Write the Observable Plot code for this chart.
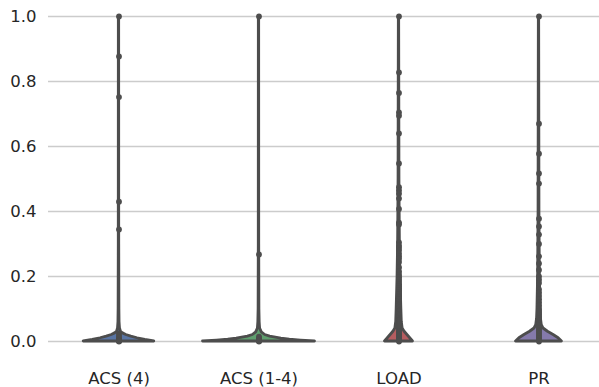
<!DOCTYPE html>
<html>
<head>
<meta charset="utf-8">
<script src="https://cdn.jsdelivr.net/npm/d3@7"></script>
<script src="https://cdn.jsdelivr.net/npm/@observablehq/plot@0.6"></script>
<style>
  html, body { margin: 0; padding: 0; background: #fff; }
  #chart { width: 599px; height: 387px; }
</style>
</head>
<body>
<div id="chart"></div>
<script>
// Categories and fill colours
const categories = ["ACS (4)", "ACS (1-4)", "LOAD", "PR"];
const fills = ["#5975a4", "#5f9e6e", "#b55d60", "#857aab"];
const yTicks = [0, 0.2, 0.4, 0.6, 0.8, 1.0];

// Observations (drawn as inner points)
const acs4Values = [1.0, 0.877, 0.752, 0.43, 0.345, 0.025, 0.018, 0.012, 0.008, 0.005, 0.003, 0.002, 0.001, 0];
const acs14Values = [1.0, 0.268, 0.015, 0.01, 0.006, 0.004, 0.002, 0.001, 0];
const loadValues = [1.0, 0.828, 0.765, 0.705, 0.695, 0.64, 0.548, 0.475, 0.465, 0.455, 0.44, 0.408, 0.366, 0.36,
  0.305, 0.295, 0.288, 0.28, 0.27, 0.262, 0.255, 0.245, 0.228, 0.215, 0.205, 0.198, 0.19, 0.183, 0.176, 0.17,
  0.164, 0.158, 0.152, 0.146, 0.14, 0.135, 0.13, 0.125, 0.12, 0.115, 0.11, 0.105, 0.1, 0.096, 0.092, 0.088,
  0.084, 0.08, 0.076, 0.072, 0.068, 0.064, 0.06, 0.057, 0.054, 0.051, 0.048, 0.045, 0.042, 0.039, 0.036,
  0.033, 0.03, 0.027, 0.024, 0.021, 0.018, 0.015, 0.012, 0.009, 0.006, 0.003, 0];
const prValues = [1.0, 0.67, 0.578, 0.517, 0.486, 0.378, 0.354, 0.329, 0.3, 0.262, 0.24, 0.22, 0.2, 0.19, 0.18,
  0.16, 0.15, 0.14, 0.13, 0.12, 0.11, 0.1, 0.094, 0.088, 0.082, 0.076, 0.07, 0.065, 0.06, 0.055, 0.05, 0.045,
  0.04, 0.035, 0.03, 0.025, 0.02, 0.015, 0.01, 0.005, 0];

// Violin density profiles: y levels and relative half-widths (1 = widest violin)
const acs4ProfileY = [0, 0.005, 0.01, 0.015, 0.02, 0.025, 0.03, 0.04, 0.06, 0.1, 0.3, 1.0];
const acs4ProfileW = [0.63, 0.47, 0.33, 0.22, 0.13, 0.07, 0.035, 0.018, 0.01, 0.007, 0.004, 0.003];
const acs14ProfileY = [0, 0.003, 0.006, 0.009, 0.015, 0.02, 0.028, 0.04, 0.06, 0.1, 0.3, 1.0];
const acs14ProfileW = [1.0, 0.75, 0.55, 0.4, 0.2, 0.11, 0.05, 0.02, 0.012, 0.007, 0.004, 0.003];
const loadProfileY = [0, 0.01, 0.02, 0.03, 0.04, 0.06, 0.1, 0.2, 0.3, 0.5, 1.0];
const loadProfileW = [0.25, 0.2, 0.15, 0.1, 0.065, 0.05, 0.042, 0.026, 0.016, 0.008, 0.003];
const prProfileY = [0, 0.01, 0.02, 0.03, 0.04, 0.05, 0.07, 0.1, 0.2, 0.4, 1.0];
const prProfileW = [0.41, 0.35, 0.26, 0.16, 0.08, 0.05, 0.035, 0.028, 0.016, 0.008, 0.003];

const valueSets = [acs4Values, acs14Values, loadValues, prValues];
const profiles = [
  [acs4ProfileY, acs4ProfileW],
  [acs14ProfileY, acs14ProfileW],
  [loadProfileY, loadProfileW],
  [prProfileY, prProfileW]
];

const maxHalf = 0.4; // half of 0.8 category width
const violin = [];
profiles.forEach(([ys, ws], i) => {
  ys.forEach((y, k) => violin.push({cat: i, y, w: ws[k] * maxHalf}));
});
const dots = [];
valueSets.forEach((vals, i) => vals.forEach(v => dots.push({cat: i, v})));

const edge = "#4d4d4d";

const chart = Plot.plot({
  width: 599,
  height: 387,
  marginLeft: 48,
  marginRight: 0,
  marginTop: 16,
  marginBottom: 46,
  style: {fontFamily: "DejaVu Sans, sans-serif", fontSize: "16.5px", color: "#262626", background: "#fff"},
  x: {type: "linear", domain: [-0.5, 3.5], range: [48.5, 608.5]},
  y: {domain: [0, 1]},
  color: {type: "ordinal", domain: [0, 1, 2, 3], range: fills},
  marks: [
    Plot.gridY(yTicks, {stroke: "#cccccc", strokeOpacity: 1, strokeWidth: 1.3}),
    Plot.areaX(violin, {
      y: "y",
      x1: d => d.cat - d.w,
      x2: d => d.cat + d.w,
      z: "cat",
      fill: d => d.cat,
      stroke: edge,
      strokeWidth: 2.8,
      strokeLinejoin: "round",
      curve: "linear"
    }),
    Plot.dot(dots, {x: "cat", y: "v", r: 2.9, fill: edge, stroke: "none"}),
    Plot.axisY(yTicks, {tickSize: 0, tickPadding: 12, tickFormat: d => d.toFixed(1), label: null, fontSize: 16.5, fill: "#262626"}),
    Plot.axisX([0, 1, 2, 3], {tickSize: 0, tickPadding: 31, tickFormat: i => categories[i], label: null, fontSize: 16.5, fill: "#262626"})
  ]
});
document.getElementById("chart").appendChild(chart);
</script>
</body>
</html>
